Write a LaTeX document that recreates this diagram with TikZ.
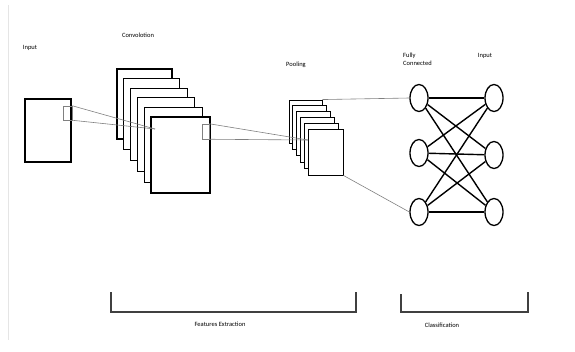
\documentclass[tikz,border=0pt]{standalone}
\usepackage{fontspec}
\setmainfont{Carlito}
\usetikzlibrary{shapes.geometric}

\begin{document}
\begin{tikzpicture}[x=1pt, y=-1pt,
  fmap/.style={draw, line width=1.3pt, fill=white, inner sep=0pt},
  patch/.style={draw=gray, line width=0.5pt, inner sep=0pt},
  link/.style={gray, line width=0.6pt},
  neuron/.style={draw, ellipse, line width=1.3pt, fill=white, minimum width=18pt, minimum height=27pt, inner sep=0pt},
  wire/.style={line width=1.4pt},
  brace/.style={black!75, line width=1.1pt},
  lbl/.style={font=\fontsize{6.5}{7.5}\selectfont, inner sep=0pt}]
  \useasboundingbox (0,0) rectangle (575,351);
  \draw[black!10, line width=0.6pt] (8,5) -- (8,340);

  % Input image
  \node[fmap, minimum width=46, minimum height=63] (input) at (48,130.5) {};
  \node[patch, minimum width=9, minimum height=14] (patchIn) at (67.5,113) {};

  % Convolution stack
  \foreach \i in {0,...,5}
    \node[fmap, minimum width={55+0.8*\i}, minimum height={70+1.2*\i}] (conv\i) at ({144.5+7.2*\i},{104+10.2*\i}) {};
  \node[patch, minimum width=7, minimum height=15] (patchConv) at (205.5,131.5) {};

  % Pooling stack
  \foreach \i in {0,...,5}
    \node[fmap, line width=0.9pt, minimum width={33+0.4*\i}, minimum height={43+0.6*\i}] (pool\i) at ({305.5+4*\i},{121.5+6.1*\i}) {};

  % Receptive field links
  \coordinate (hitConv) at (155,129);
  \coordinate (hitPool) at (308,140);
  \draw[link] (patchIn.north east) -- (hitConv);
  \draw[link] (patchIn.south east) -- (hitConv);
  \draw[link] (patchConv.north east) -- (hitPool);
  \draw[link] (patchConv.south east) -- (hitPool);

  % Fully connected layer
  \foreach \j/\y in {1/98,2/153,3/212}
    \node[neuron] (fc\j) at (419,\y) {};
  \foreach \j/\y in {1/98,2/155,3/212}
    \node[neuron] (out\j) at (494,\y) {};
  \foreach \a in {1,2,3}
    \foreach \b in {1,2,3}
      \draw[wire] (fc\a) -- (out\b);
  \draw[link] (pool0.north east) -- (fc1.west);
  \draw[link] (pool5.south east) -- (fc3.west);

  % Labels
  \node[lbl] (lblInput) at (30,48) {Input};
  \node[lbl] (lblConv) at (138,35) {Convolotion};
  \node[lbl] (lblPool) at (296,65) {Pooling};
  \node[lbl, align=left, anchor=north west] (lblFc) at (403,53) {Fully\\Connected};
  \node[lbl] (lblOut) at (485,56) {Input};

  % Brackets
  \draw[brace] (111,292) |- (356,312) -- (356,292);
  \draw[brace] (401,294) |- (528,312) -- (528,292);
  \node[lbl] (lblFeat) at (220,324) {Features Extraction};
  \node[lbl] (lblCls) at (442,325) {Classification};
\end{tikzpicture}
\end{document}
